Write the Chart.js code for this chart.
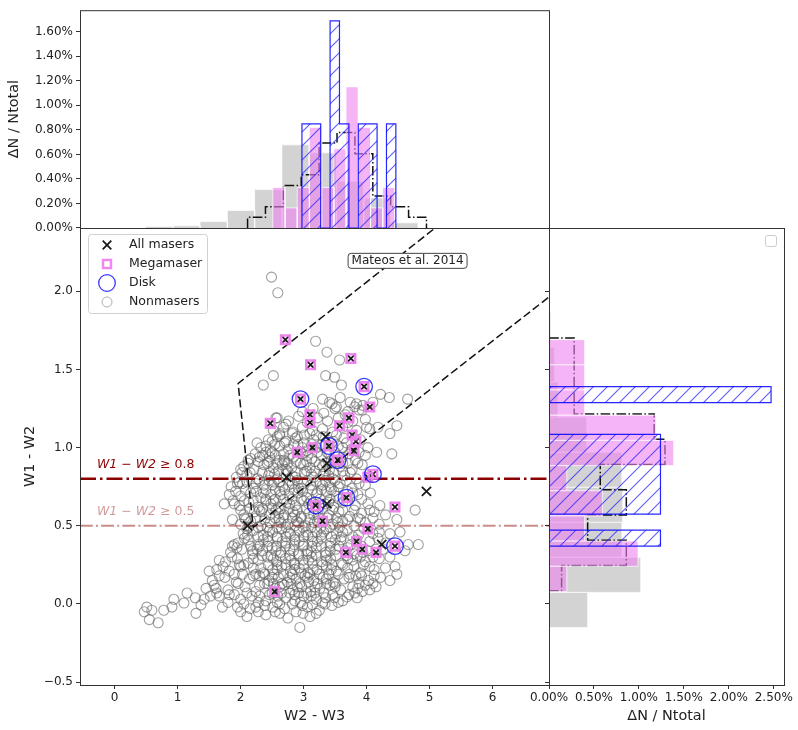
<!DOCTYPE html>
<html>
<head>
<meta charset="utf-8">
<script src="https://cdn.jsdelivr.net/npm/chart.js@4.4.1/dist/chart.umd.min.js"></script>
<style>
  body { margin: 0; background: #fff; }
  #wrap { position: relative; width: 798px; height: 730px; }
  #wrap canvas { position: absolute; left: 0; top: 0; }
</style>
</head>
<body>
<div id="wrap">
  <canvas id="topHist" width="798" height="730"></canvas>
  <canvas id="rightHist" width="798" height="730"></canvas>
  <canvas id="scatter" width="798" height="730"></canvas>
</div>
<script>
// ---- axis ranges / ticks ----
const X_MIN = -0.55, X_MAX = 6.895;     // W2 - W3
const Y_MIN = -0.518, Y_MAX = 2.404;    // W1 - W2
const TOP_MAX = 1.775, RIGHT_MAX = 2.614;
const xTicksMain = [0, 1, 2, 3, 4, 5, 6];
const yTicksMain = [-0.5, 0, 0.5, 1, 1.5, 2];
const topTicks = [0, 0.2, 0.4, 0.6, 0.8, 1.0, 1.2, 1.4, 1.6];
const rightTicks = [0, 0.5, 1.0, 1.5, 2.0, 2.5];

// ---- masers ----
const megaX = [2.71, 3.11, 3.75, 2.47, 3.10, 3.10, 3.72, 3.57, 3.77, 3.83, 3.80, 4.05, 2.90, 3.14, 3.96, 2.95,
               3.40, 3.54, 4.10, 3.68, 3.19, 4.45, 4.02, 4.45, 3.30, 4.02, 3.84, 3.93, 3.67, 4.15, 2.54];
const megaY = [1.69, 1.53, 1.57, 1.155, 1.21, 1.16, 1.19, 1.14, 1.08, 1.04, 0.98, 1.26, 0.97, 1.00, 1.39, 1.31,
               1.01, 0.92, 0.83, 0.68, 0.63, 0.37, 0.81, 0.62, 0.53, 0.48, 0.40, 0.35, 0.33, 0.33, 0.08];
const diskX = [3.96, 2.95, 3.40, 3.54, 4.10, 3.68, 3.19, 4.45];
const diskY = [1.39, 1.31, 1.01, 0.92, 0.83, 0.68, 0.63, 0.37];
// masers that are not megamasers
const otherX = [2.73, 4.95, 3.37, 2.11, 4.24, 3.35, 3.37];
const otherY = [0.81, 0.72, 0.64, 0.50, 0.38, 1.07, 0.90];

// Mateos et al. wedge and colour cuts
const mateosX = [5.20, 1.96, 2.20, 6.95];
const mateosY = [2.44, 1.41, 0.49, 1.98];
const colourCuts = [0.8, 0.5];

// ---- nonmasers (W2-W3, W1-W2) ----
const nonmaserPts = [
  // sparse points around the cloud
  [2.49, 2.09], [2.59, 1.99], [3.19, 1.68], [3.37, 1.61], [3.57, 1.56], [2.52, 1.46], [2.36, 1.40], [3.35, 1.46],
  [3.49, 1.45], [3.60, 1.40], [4.22, 1.34], [4.36, 1.32], [4.65, 1.31], [4.48, 1.14], [4.40, 0.96], [4.16, 0.97],
  [4.37, 1.09], [4.18, 1.13], [4.00, 1.13], [4.77, 0.60], [4.48, 0.54], [4.21, 0.63], [4.37, 0.45], [4.66, 0.38],
  [4.82, 0.38], [4.61, 0.34], [4.53, 0.46], [4.37, 0.30], [4.45, 0.24], [4.48, 0.19], [4.37, 0.15], [4.10, 0.13],
  [4.05, 0.09], [3.93, 0.08], [3.81, 0.07], [3.69, 0.045], [3.49, 0.04], [3.30, 0.006], [3.14, -0.006], [2.99, -0.06],
  [2.94, -0.15], [0.47, -0.05], [0.51, -0.02], [0.55, -0.10], [0.59, -0.04], [0.69, -0.12], [0.78, -0.04], [0.94, 0.03],
  [0.91, -0.02], [1.10, 0.006], [1.15, 0.07], [1.29, -0.06], [1.37, -0.006], [1.42, 0.03], [1.50, 0.21], [1.61, 0.10],
  [1.66, 0.28], [1.66, 0.05], [1.71, -0.02], [1.82, 0.06], [1.90, 0.38], [1.93, 0.14], [1.98, 0.25], [2.03, 0.19],
  [1.74, 0.64], [1.90, 0.64], [1.95, 0.77], [1.87, 0.54], [2.06, 0.55], [2.11, 0.44], [2.19, 0.34], [2.24, -0.02],
  [2.30, 0.05], [2.43, 0.13], [2.51, -0.02], [2.62, -0.06], [2.59, 0.05], [2.00, 0.86], [2.12, 0.92], [2.30, 0.94],
  [2.46, 0.94], [2.62, 0.92], [2.72, 0.86], [2.33, 0.59], [2.40, 0.66], [1.87, 0.37], [3.41, 1.29], [3.84, 1.28],
  [3.52, 1.26], [3.70, 1.23], [3.78, 1.17], [3.94, 1.27], [4.10, 1.29], [3.81, 1.26], [3.93, 1.24], [2.35, 0.95],
  [2.56, 1.19], [2.72, 1.15], [2.62, 1.09], [2.50, 1.04],
  // cloud, row by row
  [3.30, 1.31], [3.45, 1.28], [3.58, 1.32], [3.74, 1.29],
  [2.98, 1.23], [3.15, 1.25], [3.32, 1.22], [3.50, 1.25], [3.66, 1.21], [3.88, 1.24],
  [2.58, 1.19], [2.76, 1.17], [2.92, 1.20], [3.06, 1.16], [3.22, 1.19], [3.38, 1.17], [3.55, 1.19], [3.70, 1.16], [3.98, 1.18],
  [2.52, 1.11], [2.68, 1.13], [2.83, 1.10], [2.98, 1.13], [3.14, 1.11], [3.30, 1.12], [3.46, 1.10], [3.62, 1.13], [3.84, 1.11], [4.05, 1.12],
  [2.44, 1.05], [2.58, 1.07], [2.72, 1.04], [2.87, 1.06], [3.01, 1.08], [3.16, 1.05], [3.31, 1.07], [3.47, 1.04], [3.64, 1.06], [3.90, 1.05],
  [2.32, 1.00], [2.47, 0.98], [2.62, 1.01], [2.76, 0.99], [2.91, 1.02], [3.05, 0.98], [3.21, 1.00], [3.37, 0.97], [3.55, 1.01], [3.76, 0.99], [4.02, 1.00],
  [2.16, 0.93], [2.55, 0.95], [2.69, 0.92], [2.84, 0.94], [2.98, 0.96], [3.13, 0.93], [3.28, 0.95], [3.44, 0.92], [3.62, 0.94], [3.82, 0.92], [3.98, 0.95],
  [2.05, 0.88], [2.21, 0.86], [2.37, 0.89], [2.52, 0.87], [2.66, 0.89], [2.81, 0.87], [2.95, 0.90], [3.10, 0.87], [3.25, 0.89], [3.41, 0.86], [3.58, 0.88], [3.77, 0.86], [3.93, 0.89],
  [1.93, 0.81], [2.10, 0.83], [2.27, 0.80], [2.44, 0.82], [2.58, 0.80], [2.72, 0.83], [2.87, 0.81], [3.01, 0.84], [3.16, 0.81], [3.31, 0.83], [3.47, 0.80], [3.65, 0.82], [3.84, 0.80],
  [1.85, 0.75], [2.03, 0.77], [2.20, 0.74], [2.37, 0.76], [2.53, 0.78], [2.67, 0.75], [2.82, 0.77], [2.96, 0.74], [3.11, 0.76], [3.26, 0.78], [3.42, 0.75], [3.58, 0.77], [3.77, 0.74], [3.98, 0.76],
  [1.82, 0.70], [2.00, 0.69], [2.16, 0.71], [2.32, 0.68], [2.48, 0.70], [2.62, 0.72], [2.77, 0.69], [2.91, 0.71], [3.05, 0.68], [3.20, 0.70], [3.36, 0.72], [3.52, 0.69], [3.86, 0.70], [4.06, 0.71],
  [1.98, 0.63], [2.13, 0.65], [2.28, 0.62], [2.48, 0.64], [2.60, 0.62], [2.73, 0.65], [2.87, 0.63], [3.00, 0.66], [3.34, 0.64], [3.48, 0.62], [3.62, 0.65], [3.82, 0.63], [4.02, 0.64],
  [2.05, 0.57], [2.22, 0.59], [2.46, 0.57], [2.56, 0.60], [2.69, 0.57], [2.83, 0.59], [2.96, 0.56], [3.08, 0.58], [3.23, 0.60], [3.40, 0.57], [3.56, 0.59], [3.73, 0.56], [3.92, 0.58], [4.12, 0.59], [4.30, 0.57],
  [2.00, 0.51], [2.16, 0.53], [2.32, 0.50], [2.47, 0.52], [2.61, 0.54], [2.75, 0.51], [2.89, 0.53], [3.03, 0.50], [3.17, 0.52], [3.46, 0.51], [3.62, 0.53], [3.80, 0.50], [3.98, 0.52], [4.20, 0.51],
  [2.04, 0.45], [2.20, 0.47], [2.36, 0.44], [2.51, 0.46], [2.65, 0.48], [2.79, 0.45], [2.93, 0.47], [3.07, 0.44], [3.21, 0.46], [3.36, 0.48], [3.52, 0.45], [3.69, 0.47], [3.87, 0.44], [4.20, 0.46],
  [1.96, 0.39], [2.12, 0.41], [2.28, 0.38], [2.44, 0.40], [2.58, 0.42], [2.72, 0.39], [2.86, 0.41], [3.00, 0.38], [3.14, 0.40], [3.28, 0.42], [3.43, 0.39], [3.59, 0.41], [3.75, 0.38], [4.05, 0.40], [4.30, 0.39],
  [1.84, 0.33], [2.02, 0.35], [2.19, 0.32], [2.35, 0.34], [2.50, 0.36], [2.64, 0.33], [2.78, 0.35], [2.92, 0.32], [3.06, 0.34], [3.20, 0.36], [3.35, 0.33], [3.51, 0.35], [3.80, 0.32], [4.02, 0.34], [4.26, 0.35],
  [1.76, 0.27], [1.95, 0.29], [2.12, 0.26], [2.28, 0.28], [2.43, 0.30], [2.57, 0.27], [2.71, 0.29], [2.85, 0.26], [2.99, 0.28], [3.13, 0.30], [3.28, 0.27], [3.43, 0.29], [3.60, 0.26], [3.78, 0.28], [3.98, 0.27], [4.20, 0.29],
  [1.62, 0.22], [1.82, 0.21], [2.20, 0.23], [2.36, 0.20], [2.51, 0.22], [2.65, 0.24], [2.79, 0.21], [2.93, 0.23], [3.07, 0.20], [3.21, 0.22], [3.36, 0.24], [3.52, 0.21], [3.70, 0.23], [3.90, 0.20], [4.12, 0.22], [4.30, 0.23],
  [1.55, 0.15], [1.75, 0.17], [2.14, 0.16], [2.30, 0.18], [2.45, 0.15], [2.60, 0.17], [2.74, 0.14], [2.88, 0.16], [3.02, 0.18], [3.16, 0.15], [3.31, 0.17], [3.47, 0.14], [3.64, 0.16], [3.83, 0.18], [4.03, 0.15], [4.22, 0.17],
  [1.45, 0.10], [1.80, 0.09], [2.07, 0.11], [2.24, 0.08], [2.55, 0.10], [2.69, 0.12], [2.83, 0.09], [2.97, 0.11], [3.11, 0.08], [3.26, 0.10], [3.42, 0.12], [3.59, 0.09], [3.78, 0.11], [3.98, 0.12],
  [1.28, 0.04], [1.52, 0.05], [2.00, 0.03], [2.18, 0.05], [2.40, 0.02], [2.72, 0.04], [2.86, 0.02], [3.00, 0.05], [3.20, 0.03], [3.62, 0.02], [3.85, 0.04],
  [1.95, -0.02], [2.15, -0.03], [2.38, -0.01], [2.70, -0.03], [2.82, 0.00], [3.06, -0.02], [3.25, -0.04], [3.45, -0.01],
  [2.10, -0.08], [2.40, -0.07], [2.75, -0.09], [3.10, -0.08],
  // denser core
  [2.45, 0.91], [2.75, 0.90], [3.05, 0.91], [3.35, 0.90], [2.60, 0.85], [2.88, 0.84], [3.18, 0.85], [3.48, 0.84],
  [2.30, 0.79], [2.62, 0.78], [2.90, 0.79], [3.20, 0.78], [3.50, 0.79], [2.40, 0.73], [2.70, 0.73], [2.98, 0.72],
  [3.28, 0.73], [2.55, 0.67], [2.82, 0.67], [3.12, 0.66], [3.42, 0.67], [2.35, 0.61], [2.64, 0.61], [2.90, 0.60],
  [3.15, 0.62], [2.55, 0.55], [2.82, 0.55], [3.10, 0.54], [3.38, 0.55], [3.70, 0.54], [2.28, 0.49], [2.58, 0.49],
  [2.86, 0.50], [3.12, 0.49], [3.42, 0.49], [2.43, 0.43], [2.72, 0.43], [3.00, 0.43], [3.28, 0.44], [3.60, 0.43],
  [2.30, 0.37], [2.57, 0.37], [2.85, 0.38], [3.13, 0.37], [3.42, 0.37], [3.70, 0.36], [2.48, 0.31], [2.78, 0.31],
  [3.05, 0.32], [3.35, 0.31], [3.68, 0.31], [2.58, 0.25], [2.86, 0.25], [3.14, 0.26], [3.45, 0.25], [2.38, 0.19],
  [2.68, 0.19], [2.96, 0.20], [3.25, 0.19], [3.55, 0.19], [2.52, 0.13], [2.80, 0.13], [3.08, 0.14], [3.36, 0.13],
  [2.65, 0.07], [2.92, 0.07], [3.18, 0.07], [2.70, 1.03], [3.00, 1.03], [3.28, 1.02], [2.82, 1.09], [3.10, 1.09],
  [2.26, 1.03], [2.54, 1.02], [2.84, 1.02], [3.13, 1.02], [3.44, 1.03], [3.68, 1.03],
  [2.40, 0.97], [2.68, 0.96], [2.95, 0.97], [3.22, 0.97], [3.50, 0.97], [3.88, 0.97],
  [2.28, 0.91], [2.58, 0.90], [2.88, 0.91], [3.18, 0.91], [3.52, 0.91], [3.70, 0.90],
  [2.15, 0.84], [2.46, 0.84], [2.75, 0.85], [3.05, 0.85], [3.35, 0.85], [3.62, 0.85],
  [2.10, 0.78], [2.45, 0.79], [2.78, 0.79], [3.06, 0.79], [3.35, 0.79], [3.68, 0.79],
  [2.25, 0.72], [2.55, 0.73], [2.85, 0.73], [3.14, 0.73], [3.44, 0.73], [3.70, 0.72],
  [2.06, 0.66], [2.40, 0.67], [2.68, 0.67], [2.96, 0.67], [3.26, 0.67], [3.56, 0.67], [3.92, 0.67],
  [2.14, 0.61], [2.50, 0.61], [2.77, 0.61], [3.04, 0.61], [3.30, 0.61], [3.62, 0.60],
  [2.24, 0.55], [2.68, 0.55], [2.96, 0.55], [3.24, 0.55], [3.52, 0.55], [3.86, 0.55],
  [2.13, 0.49], [2.42, 0.49], [2.72, 0.49], [2.99, 0.49], [3.27, 0.49], [3.57, 0.49],
  [2.28, 0.43], [2.58, 0.43], [2.86, 0.43], [3.14, 0.43], [3.44, 0.43], [3.78, 0.43],
  [2.16, 0.37], [2.43, 0.37], [2.71, 0.37], [2.99, 0.37], [3.28, 0.37], [3.56, 0.37], [3.92, 0.37],
  [2.34, 0.31], [2.63, 0.31], [2.92, 0.31], [3.20, 0.31], [3.52, 0.31], [3.85, 0.31],
  [2.05, 0.25], [2.44, 0.25], [2.72, 0.25], [3.00, 0.25], [3.30, 0.25], [3.62, 0.25], [3.95, 0.25],
  [2.24, 0.19], [2.53, 0.19], [2.82, 0.19], [3.10, 0.19], [3.40, 0.19], [3.73, 0.19],
  [2.38, 0.13], [2.66, 0.13], [2.94, 0.13], [3.22, 0.13], [3.50, 0.13], [3.88, 0.13],
  [2.50, 0.07], [2.78, 0.07], [3.05, 0.07], [3.32, 0.07], [2.58, 0.01], [2.95, 0.01], [3.35, 0.04],
  [2.62, 1.08], [2.90, 1.07], [3.20, 1.08], [3.52, 1.08], [2.40, 1.01], [2.98, 1.00], [3.32, 1.01], [3.62, 1.00],
  [2.23, 0.96], [2.50, 0.97], [2.78, 0.95], [3.06, 0.95], [3.40, 0.96], [3.72, 0.96],
  [2.12, 0.90], [2.42, 0.90], [2.70, 0.91], [3.00, 0.89], [3.30, 0.88], [3.62, 0.90], [3.86, 0.90],
  [2.02, 0.84], [2.34, 0.84], [2.54, 0.83], [2.82, 0.82], [3.12, 0.83], [3.40, 0.82], [3.74, 0.84],
  [1.98, 0.78], [2.24, 0.77], [2.50, 0.76], [2.76, 0.76], [3.00, 0.77], [3.30, 0.76], [3.55, 0.75], [3.88, 0.77],
  [1.92, 0.72], [2.08, 0.73], [2.36, 0.71], [2.64, 0.70], [2.92, 0.74], [3.22, 0.71], [3.48, 0.72], [3.78, 0.71],
  [1.88, 0.66], [2.20, 0.66], [2.52, 0.66], [2.78, 0.64], [3.08, 0.64], [3.40, 0.65], [3.70, 0.66],
  [2.00, 0.60], [2.30, 0.60], [2.60, 0.58], [2.86, 0.57], [3.16, 0.57], [3.46, 0.60], [3.80, 0.60], [4.05, 0.60],
  [2.08, 0.54], [2.38, 0.54], [2.64, 0.52], [2.92, 0.52], [3.22, 0.53], [3.54, 0.52], [3.90, 0.54], [4.10, 0.55],
  [2.10, 0.48], [2.46, 0.47], [2.76, 0.46], [3.04, 0.46], [3.32, 0.46], [3.62, 0.46], [3.96, 0.48], [4.10, 0.45],
  [2.06, 0.42], [2.36, 0.41], [2.66, 0.40], [2.93, 0.40], [3.22, 0.40], [3.50, 0.41], [3.84, 0.41], [4.18, 0.42],
  [1.94, 0.36], [2.26, 0.35], [2.56, 0.34], [2.84, 0.34], [3.12, 0.33], [3.42, 0.34], [3.66, 0.34], [3.94, 0.33], [4.15, 0.35],
  [1.86, 0.30], [2.20, 0.29], [2.52, 0.29], [2.80, 0.28], [3.08, 0.28], [3.36, 0.28], [3.70, 0.29], [3.90, 0.30], [4.10, 0.30],
  [1.72, 0.24], [2.00, 0.24], [2.32, 0.23], [2.58, 0.22], [2.86, 0.22], [3.15, 0.22], [3.44, 0.22], [3.80, 0.24], [4.05, 0.24],
  [1.66, 0.18], [1.90, 0.19], [2.20, 0.18], [2.50, 0.17], [2.78, 0.17], [3.06, 0.17], [3.36, 0.16], [3.72, 0.17], [3.92, 0.18], [4.12, 0.18],
  [1.58, 0.12], [1.96, 0.13], [2.30, 0.12], [2.62, 0.11], [2.90, 0.11], [3.18, 0.11], [3.50, 0.11], [3.86, 0.10], [4.15, 0.11],
  [1.62, 0.07], [1.90, 0.06], [2.10, 0.07], [2.46, 0.06], [2.86, 0.06], [3.12, 0.05], [3.46, 0.06], [3.72, 0.06],
  [1.80, 0.01], [2.05, 0.00], [2.28, 0.01], [2.62, 0.00], [2.98, -0.01], [3.34, 0.00], [3.55, 0.01],
  [2.00, -0.05], [2.28, -0.05], [2.55, -0.05], [2.88, -0.05], [3.20, -0.06]
];

// ---- top histogram (W2 - W3), ΔN / Ntotal in % ----
const greyEdgesX = [0.49, 0.923, 1.356, 1.789, 2.222, 2.655, 3.088, 3.521, 3.954, 4.387, 4.82];
const greyTop    = [0.0125, 0.018, 0.052, 0.143, 0.313, 0.678, 0.613, 0.38, 0.245, 0.042];
const megaEdgesX = [2.51, 2.704, 2.898, 3.092, 3.286, 3.48, 3.674, 3.868, 4.062, 4.256, 4.45];
const megaTop    = [0.33, 0.164, 0.33, 0.82, 0.33, 0.645, 1.15, 0.82, 0.164, 0.33];
const diskEdgesX = [2.973, 3.122, 3.271, 3.42, 3.569, 3.719, 3.868, 4.017, 4.166, 4.315, 4.464];
const diskTop    = [0.848, 0.848, 0, 1.688, 0.848, 0, 0.848, 0.848, 0, 0.848];
const allEdgesX  = [2.11, 2.394, 2.678, 2.962, 3.246, 3.53, 3.814, 4.098, 4.382, 4.666, 4.95];
const allTop     = [0.087, 0.173, 0.346, 0.433, 0.692, 0.779, 0.606, 0.26, 0.173, 0.087];

// ---- right histogram (W1 - W2), ΔN / Ntotal in % ----
const greyEdgesY = [-0.15, 0.074, 0.298, 0.522, 0.746, 0.97, 1.194, 1.418, 1.642, 1.866, 2.09];
const greyRight  = [0.43, 1.02, 0.81, 0.82, 0.81, 0.42, 0.10, 0.06, 0.02, 0.01];
const megaEdgesY = [0.08, 0.241, 0.402, 0.563, 0.724, 0.885, 1.046, 1.207, 1.368, 1.529, 1.69];
const megaRight  = [0.198, 0.99, 0.396, 0.594, 0.198, 1.386, 1.188, 0.396, 0.396, 0.396];
const diskEdgesY = [0.37, 0.472, 0.574, 0.676, 0.778, 0.88, 0.982, 1.084, 1.186, 1.288, 1.39];
const diskRight  = [1.24, 0, 1.24, 1.24, 1.24, 1.24, 1.24, 0, 0, 2.47];
const allEdgesY  = [0.085, 0.2465, 0.408, 0.5695, 0.731, 0.8925, 1.054, 1.2155, 1.377, 1.5385, 1.70];
const allRight   = [0.14, 0.86, 0.43, 0.86, 0.57, 1.29, 1.17, 0.28, 0.28, 0.28];

Chart.defaults.font.family = '"DejaVu Sans", sans-serif';
Chart.defaults.font.size = 12;
Chart.defaults.color = '#222';
Chart.defaults.animation = false;
Chart.defaults.events = [];
Chart.defaults.plugins.legend.display = false;
Chart.defaults.plugins.tooltip.enabled = false;

const pts = (xs, ys) => xs.map((x, i) => ({ x: x, y: ys[i] }));

// step outline of a histogram: [edge, value] corners
function stepOutline(edges, vals) {
    const out = [[edges[0], 0]];
    vals.forEach((v, i) => { out.push([edges[i], v]); out.push([edges[i + 1], v]); });
    out.push([edges[edges.length - 1], 0]);
    return out;
}

// one filled rectangle per bin (matplotlib 'bar' histogram, white edges)
function barSets(edges, vals, colour, order, flip) {
    const sets = [];
    vals.forEach((v, i) => {
        if (!v) return;
        const corners = [[edges[i], 0], [edges[i], v], [edges[i + 1], v], [edges[i + 1], 0]];
        sets.push({
            type: 'line',
            data: corners.map(p => flip ? { x: p[1], y: p[0] } : { x: p[0], y: p[1] }),
            fill: 'shape',
            backgroundColor: colour,
            borderColor: 'rgba(255,255,255,0.85)',
            borderWidth: 0.8,
            pointRadius: 0,
            order: order
        });
    });
    return sets;
}

function outlineSet(edges, vals, flip, extra) {
    return Object.assign({
        type: 'line',
        data: stepOutline(edges, vals).map(p => flip ? { x: p[1], y: p[0] } : { x: p[0], y: p[1] }),
        pointRadius: 0
    }, extra);
}

function hatch(ctx) {
    const c = document.createElement('canvas');
    c.width = c.height = 14;
    const g = c.getContext('2d');
    g.strokeStyle = 'rgba(40,40,255,0.75)';
    g.lineWidth = 1.1;
    g.beginPath();
    g.moveTo(0, 14); g.lineTo(14, 0);
    g.moveTo(-7, 7); g.lineTo(7, -7);
    g.moveTo(7, 21); g.lineTo(21, 7);
    g.stroke();
    return ctx.createPattern(c, 'repeat');
}

function axis(min, max, tickVals, fmt, extra) {
    return Object.assign({
        type: 'linear', min: min, max: max, offset: false,
        afterBuildTicks: s => { s.ticks = tickVals.map(v => ({ value: v })); },
        grid: { offset: false, drawOnChartArea: false, tickLength: 4, tickColor: '#333', tickWidth: 1 },
        border: { display: false },
        ticks: { callback: fmt, padding: 3, color: '#222', font: { size: 12 }, maxRotation: 0, autoSkip: false }
    }, extra);
}
const pct = v => v.toFixed(2) + '%';

const frame = {
    id: 'frame',
    afterDraw(chart) {
        const { ctx, chartArea: a } = chart;
        ctx.save();
        ctx.strokeStyle = '#333';
        ctx.lineWidth = 1;
        ctx.strokeRect(a.left + 0.5, a.top + 0.5, a.right - a.left, a.bottom - a.top);
        ctx.restore();
    }
};

function roundRect(ctx, x, y, w, h, r) {
    ctx.beginPath();
    ctx.moveTo(x + r, y);
    ctx.arcTo(x + w, y, x + w, y + h, r);
    ctx.arcTo(x + w, y + h, x, y + h, r);
    ctx.arcTo(x, y + h, x, y, r);
    ctx.arcTo(x, y, x + w, y, r);
    ctx.closePath();
}

const PINK_FILL = 'rgba(238,130,238,0.6)';
const GREY_FILL = 'rgba(200,200,200,0.8)';

// ---------- top histogram ----------
const topCtx = document.getElementById('topHist').getContext('2d');
new Chart(topCtx, {
    type: 'line',
    data: {
        datasets: [
            outlineSet(diskEdgesX, diskTop, false, {
                borderColor: 'rgba(0,0,255,0.85)', borderWidth: 1.2,
                backgroundColor: hatch(topCtx), fill: 'shape', order: 0
            }),
            ...barSets(megaEdgesX, megaTop, PINK_FILL, 1, false),
            outlineSet(allEdgesX, allTop, false, {
                borderColor: '#111', borderWidth: 1.5, borderDash: [9.6, 2.4, 1.5, 2.4], fill: false, order: 2
            }),
            ...barSets(greyEdgesX, greyTop, GREY_FILL, 3, false)
        ]
    },
    options: {
        responsive: false,
        layout: { padding: { top: 2, right: 249, bottom: 502, left: 0 } },
        scales: {
            x: { type: 'linear', min: X_MIN, max: X_MAX, display: false },
            y: axis(0, TOP_MAX, topTicks, pct, {
                afterFit: s => { s.width = 80; },
                title: { display: true, text: 'ΔN / Ntotal', color: '#222', font: { size: 14.4 }, padding: { top: 5.4, bottom: 0 } }
            })
        }
    },
    plugins: [frame]
});

// ---------- right histogram ----------
const rightCtx = document.getElementById('rightHist').getContext('2d');
new Chart(rightCtx, {
    type: 'line',
    data: {
        datasets: [
            outlineSet(diskEdgesY, diskRight, true, {
                borderColor: 'rgba(0,0,255,0.85)', borderWidth: 1.2,
                backgroundColor: hatch(rightCtx), fill: 'shape', order: 0
            }),
            ...barSets(megaEdgesY, megaRight, PINK_FILL, 1, true),
            outlineSet(allEdgesY, allRight, true, {
                borderColor: '#111', borderWidth: 1.5, borderDash: [9.6, 2.4, 1.5, 2.4], fill: false, order: 2
            }),
            ...barSets(greyEdgesY, greyRight, GREY_FILL, 3, true)
        ]
    },
    options: {
        responsive: false,
        layout: { padding: { top: 228, right: 14, bottom: 0, left: 545 } },
        scales: {
            y: axis(Y_MIN, Y_MAX, yTicksMain, () => '', {
                afterFit: s => { s.width = 4; },
                ticks: { display: false }
            }),
            x: axis(0, RIGHT_MAX, rightTicks, pct, {
                afterFit: s => { s.height = 45; },
                ticks: { callback: pct, padding: 1.5, color: '#222', font: { size: 12 }, maxRotation: 0, autoSkip: false },
                title: { display: true, text: 'ΔN / Ntotal', color: '#222', font: { size: 14.4 }, padding: { top: 0, bottom: 4.7 } }
            })
        }
    },
    plugins: [frame, {
        id: 'emptyLegend',
        afterDraw(chart) {
            const { ctx, chartArea: a } = chart;
            ctx.save();
            roundRect(ctx, a.right - 18.5, a.top + 7.5, 11, 11, 2);
            ctx.fillStyle = '#fff';
            ctx.fill();
            ctx.strokeStyle = '#ccc';
            ctx.lineWidth = 1;
            ctx.stroke();
            ctx.restore();
        }
    }]
});

// ---------- main scatter ----------
const mateosLabel = 'Mateos et al. 2014';
const mateosLabelAt = [4.65, 2.194];

function cutLabel(ctx, x, y, cut, colour) {
    const parts = [['W1', true], [' − ', false], ['W2', true], [' ≥ ' + cut.toFixed(1), false]];
    ctx.fillStyle = colour;
    ctx.textBaseline = 'middle';
    ctx.textAlign = 'left';
    parts.forEach(p => {
        ctx.font = (p[1] ? 'italic ' : '') + '12.5px "DejaVu Sans"';
        ctx.fillText(p[0], x, y);
        x += ctx.measureText(p[0]).width;
    });
}

const scatterExtras = {
    id: 'scatterExtras',
    afterDatasetsDraw(chart) {
        const { ctx, chartArea: a, scales: { x, y } } = chart;
        ctx.save();
        // colour cut labels
        cutLabel(ctx, x.getPixelForValue(-0.28), y.getPixelForValue(colourCuts[0] + 0.09), colourCuts[0], '#8b0000');
        cutLabel(ctx, x.getPixelForValue(-0.28), y.getPixelForValue(colourCuts[1] + 0.09), colourCuts[1], 'rgba(139,0,0,0.42)');

        // Mateos label box
        ctx.font = '12px "DejaVu Sans"';
        const mx = x.getPixelForValue(mateosLabelAt[0]), my = y.getPixelForValue(mateosLabelAt[1]);
        const w = ctx.measureText(mateosLabel).width + 7;
        roundRect(ctx, mx - w / 2, my - 7.5, w, 15, 3);
        ctx.fillStyle = '#fff';
        ctx.fill();
        ctx.strokeStyle = '#444';
        ctx.lineWidth = 1;
        ctx.stroke();
        ctx.fillStyle = '#222';
        ctx.textAlign = 'center';
        ctx.textBaseline = 'middle';
        ctx.fillText(mateosLabel, mx, my + 0.5);

        // legend
        const lx = a.left + 8, ly = a.top + 6;
        roundRect(ctx, lx + 0.5, ly + 0.5, 119, 79, 3);
        ctx.fillStyle = 'rgba(255,255,255,0.85)';
        ctx.fill();
        ctx.strokeStyle = '#d0d0d0';
        ctx.stroke();
        const names = ['All masers', 'Megamaser', 'Disk', 'Nonmasers'];
        const mkx = a.left + 27;
        names.forEach((n, i) => {
            const ry = ly + 11 + i * 19;
            ctx.beginPath();
            if (i === 0) {
                ctx.strokeStyle = '#1a1a1a'; ctx.lineWidth = 1.8;
                ctx.moveTo(mkx - 4.3, ry - 4.3); ctx.lineTo(mkx + 4.3, ry + 4.3);
                ctx.moveTo(mkx + 4.3, ry - 4.3); ctx.lineTo(mkx - 4.3, ry + 4.3);
            } else if (i === 1) {
                ctx.strokeStyle = 'rgba(238,130,238,0.95)'; ctx.lineWidth = 2.4;
                ctx.rect(mkx - 4, ry - 4, 8, 8);
            } else if (i === 2) {
                ctx.strokeStyle = 'rgba(20,20,255,0.85)'; ctx.lineWidth = 1.3;
                ctx.arc(mkx, ry, 8.3, 0, Math.PI * 2);
            } else {
                ctx.strokeStyle = 'rgba(100,100,100,0.5)'; ctx.lineWidth = 1;
                ctx.arc(mkx, ry, 5, 0, Math.PI * 2);
            }
            ctx.stroke();
            ctx.fillStyle = '#222';
            ctx.font = '12.5px "DejaVu Sans"';
            ctx.textAlign = 'left';
            ctx.textBaseline = 'middle';
            ctx.fillText(n, a.left + 49, ry);
        });
        ctx.restore();
    }
};

new Chart(document.getElementById('scatter'), {
    type: 'scatter',
    data: {
        datasets: [{
            label: 'All masers',
            data: pts(megaX.concat(otherX), megaY.concat(otherY)),
            pointStyle: 'crossRot',
            pointRadius: 6.5,
            borderColor: '#1a1a1a',
            borderWidth: 1.8,
            order: 2
        }, {
            label: 'Megamaser',
            data: pts(megaX, megaY),
            pointStyle: 'rect',
            pointRadius: 6,
            borderColor: 'rgba(238,130,238,0.95)',
            backgroundColor: 'rgba(0,0,0,0)',
            borderWidth: 2.6,
            order: 1
        }, {
            label: 'Disk',
            data: pts(diskX, diskY),
            pointRadius: 8.3,
            borderColor: 'rgba(20,20,255,0.85)',
            backgroundColor: 'rgba(0,0,0,0)',
            borderWidth: 1.3,
            order: 0
        }, {
            label: 'Nonmasers',
            data: nonmaserPts.map(p => ({ x: p[0], y: p[1] })),
            pointRadius: 5,
            borderColor: 'rgba(95,95,95,0.6)',
            backgroundColor: 'rgba(0,0,0,0)',
            borderWidth: 1.1,
            order: 6
        }, {
            label: 'Mateos et al. 2014',
            data: pts(mateosX, mateosY),
            showLine: true,
            pointRadius: 0,
            borderColor: '#111',
            borderWidth: 1.5,
            borderDash: [8, 3.5],
            order: 3
        }, {
            label: 'W1-W2 >= 0.8',
            data: [{ x: X_MIN, y: colourCuts[0] }, { x: X_MAX, y: colourCuts[0] }],
            showLine: true,
            pointRadius: 0,
            borderColor: '#8b0000',
            borderWidth: 2.5,
            borderDash: [16, 4, 2.5, 4],
            order: 4
        }, {
            label: 'W1-W2 >= 0.5',
            data: [{ x: X_MIN, y: colourCuts[1] }, { x: X_MAX, y: colourCuts[1] }],
            showLine: true,
            pointRadius: 0,
            borderColor: 'rgba(139,0,0,0.45)',
            borderWidth: 2,
            borderDash: [12.8, 3.2, 2, 3.2],
            order: 5
        }]
    },
    options: {
        responsive: false,
        layout: { padding: { top: 228, right: 249, bottom: 0, left: 0 } },
        scales: {
            x: axis(X_MIN, X_MAX, xTicksMain, v => String(v), {
                afterFit: s => { s.height = 45; },
                ticks: { callback: v => String(v), padding: 1.5, color: '#222', font: { size: 12 }, maxRotation: 0, autoSkip: false },
                title: { display: true, text: 'W2 - W3', color: '#222', font: { size: 14.4 }, padding: { top: 0, bottom: 4.7 } }
            }),
            y: axis(Y_MIN, Y_MAX, yTicksMain, v => (v < 0 ? '−' : '') + Math.abs(v).toFixed(1), {
                afterFit: s => { s.width = 80; },
                title: { display: true, text: 'W1 - W2', color: '#222', font: { size: 14.4 }, padding: { top: 21.4, bottom: 0 } }
            })
        }
    },
    plugins: [frame, scatterExtras]
});
</script>
</body>
</html>
